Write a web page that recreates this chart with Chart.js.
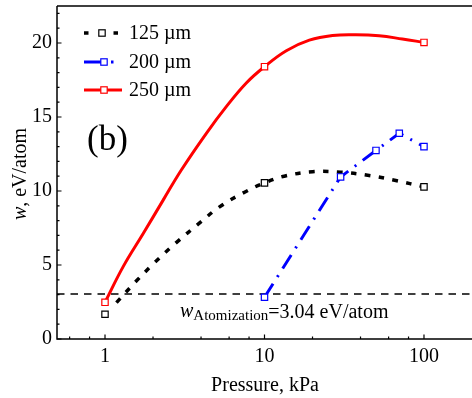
<!DOCTYPE html>
<html><head><meta charset="utf-8">
<script src="https://cdn.jsdelivr.net/npm/chart.js@4.4.0/dist/chart.umd.min.js"></script>
<style>html,body{margin:0;padding:0;background:#fff;}#wrap{width:472px;height:398px;}</style>
</head><body><div id="wrap"><canvas id="c" width="472" height="398"></canvas></div>
<script>
// ---- data ----
const xTickValues = [1, 10, 100];
const xMinorTicks = [0.6, 0.8, 2, 4, 6, 8, 20, 40, 60, 80, 200];
const yTickValues = [0, 5, 10, 15, 20];
const yMinorTicks = [1,2,3,4,6,7,8,9,11,12,13,14,16,17,18,19,21,22];

const p125X = [1, 10, 100];
const p125Y = [1.67, 10.55, 10.28];
const p200X = [10, 30, 50, 70, 100];
const p200Y = [2.82, 10.95, 12.74, 13.9, 13.0];
const p250X = [1, 10, 100];
const p250Y = [2.48, 18.4, 20.04];

const fit125X = [1.18, 1.56, 2.05, 2.81, 3.92, 5.23, 7.5, 10, 13.3, 20, 30.1, 45.3, 66.5, 100];
const fit125Y = [2.46, 3.88, 5.17, 6.53, 7.84, 8.93, 9.92, 10.55, 11.0, 11.3, 11.27, 11.05, 10.71, 10.28];
const fit250X = [1, 1.30, 1.74, 2.32, 3.01, 4.32, 5.76, 7.69, 10, 13.7, 19.1, 26.7, 37.4, 52.3, 73.2, 100];
const fit250Y = [2.48, 4.89, 7.14, 9.4, 11.42, 13.9, 15.7, 17.3, 18.4, 19.48, 20.19, 20.51, 20.56, 20.49, 20.27, 20.04];

const atomX = [0.5, 200];
const atomY = [3.04, 3.04];

const seriesLabels = ['125 \u00b5m', '200 \u00b5m', '250 \u00b5m'];

const pts = (xs, ys) => xs.map((x, i) => ({x: x, y: ys[i]}));
const FONT = 'Liberation Serif, Times New Roman, serif';

const BLACK_DASH = [5.5, 8.5];
const BLUE_DASH = [16, 8, 2, 8];

// stretch the plot area to the right edge of the canvas (the reference is cropped there)
const fullWidth = {
  id: 'fullWidth',
  afterLayout(chart) {
    const a = chart.chartArea, s = chart.scales.x, R = chart.width;
    s.right = R; s.width = R - s.left;
    a.right = R; a.width = R - a.left;
    s.configure();
  }
};

const decor = {
  id: 'decor',
  afterDraw(chart) {
    const ctx = chart.ctx, a = chart.chartArea;
    const xs = chart.scales.x, ys = chart.scales.y;
    ctx.save();
    ctx.strokeStyle = '#000'; ctx.lineWidth = 1.5; ctx.setLineDash([]);
    ctx.beginPath();
    ctx.moveTo(a.left, a.top); ctx.lineTo(a.right, a.top);
    ctx.moveTo(a.left, a.top); ctx.lineTo(a.left, a.bottom); ctx.lineTo(a.right, a.bottom);
    ctx.stroke();
    ctx.lineWidth = 1.2;
    ctx.beginPath();
    xTickValues.forEach(v => { const p = xs.getPixelForValue(v); ctx.moveTo(p, a.bottom); ctx.lineTo(p, a.bottom - 4.5); });
    xMinorTicks.forEach(v => { const p = xs.getPixelForValue(v); if (p > a.left + 1 && p < a.right - 1) { ctx.moveTo(p, a.bottom); ctx.lineTo(p, a.bottom - 2.5); } });
    yTickValues.forEach(v => { const p = ys.getPixelForValue(v); ctx.moveTo(a.left, p); ctx.lineTo(a.left + 4.5, p); });
    yMinorTicks.forEach(v => { const p = ys.getPixelForValue(v); ctx.moveTo(a.left, p); ctx.lineTo(a.left + 2.5, p); });
    ctx.stroke();

    const rows = [33, 62, 90];
    const drawMarker = (x, y, col) => {
      ctx.setLineDash([]); ctx.lineWidth = 1.2; ctx.strokeStyle = col; ctx.fillStyle = '#fff';
      ctx.fillRect(x - 3.2, y - 3.2, 6.4, 6.4); ctx.strokeRect(x - 3.2, y - 3.2, 6.4, 6.4);
    };
    ctx.fillStyle = '#000';
    ctx.fillRect(84, rows[0] - 1.75, 4.5, 3.5);
    ctx.fillRect(113.5, rows[0] - 1.75, 4.5, 3.5);
    drawMarker(102, rows[0], '#000');
    ctx.strokeStyle = '#0000ff'; ctx.lineWidth = 3; ctx.setLineDash([]);
    ctx.beginPath(); ctx.moveTo(84, rows[1]); ctx.lineTo(101, rows[1]); ctx.stroke();
    ctx.fillStyle = '#0000ff'; ctx.fillRect(111, rows[1] - 1.5, 2.5, 3);
    drawMarker(104, rows[1], '#0000ff');
    ctx.strokeStyle = '#ff0000'; ctx.lineWidth = 3;
    ctx.beginPath(); ctx.moveTo(84, rows[2]); ctx.lineTo(122, rows[2]); ctx.stroke();
    drawMarker(104, rows[2], '#ff0000');

    ctx.fillStyle = '#000';
    ctx.font = '20px ' + FONT; ctx.textAlign = 'left'; ctx.textBaseline = 'middle';
    seriesLabels.forEach((t, i) => ctx.fillText(t, 129, rows[i] + 1));

    ctx.textBaseline = 'alphabetic';
    ctx.font = '35px ' + FONT;
    ctx.fillText('(b)', 87, 150);

    let x = 180;
    ctx.font = 'italic 20px ' + FONT;
    ctx.fillText('w', x, 317); x += ctx.measureText('w').width;
    ctx.font = '15px ' + FONT;
    ctx.fillText('Atomization', x, 320); x += ctx.measureText('Atomization').width;
    ctx.font = '20px ' + FONT;
    ctx.fillText('=3.04 eV/atom', x, 318);

    ctx.textAlign = 'center';
    ctx.fillText('Pressure, kPa', 265, 391);

    ctx.save();
    ctx.translate(26, 174); ctx.rotate(-Math.PI / 2);
    ctx.textAlign = 'left';
    ctx.font = 'italic 20px ' + FONT;
    const w1 = ctx.measureText('w').width;
    ctx.font = '20px ' + FONT;
    const w2 = ctx.measureText(', eV/atom').width;
    const sx = -(w1 + w2) / 2;
    ctx.font = 'italic 20px ' + FONT;
    ctx.fillText('w', sx, 0);
    ctx.font = '20px ' + FONT;
    ctx.fillText(', eV/atom', sx + w1, 0);
    ctx.restore();

    ctx.restore();
  }
};

const markerOpts = (col) => ({
  pointStyle: 'rect', pointRadius: 4.5, pointBorderWidth: 1.2,
  pointBorderColor: col, pointBackgroundColor: '#fff', pointHoverRadius: 4.5
});

new Chart(document.getElementById('c'), {
  type: 'line',
  data: {
    datasets: [
      Object.assign({ label: 'p250', data: pts(p250X, p250Y), showLine: false }, markerOpts('#ff0000')),
      Object.assign({ label: 'p125', data: pts(p125X, p125Y), showLine: false }, markerOpts('#000000')),
      Object.assign({ label: seriesLabels[1], data: pts(p200X, p200Y), borderColor: '#0000ff', borderWidth: 3,
        borderDash: BLUE_DASH, tension: 0, borderCapStyle: 'butt' }, markerOpts('#0000ff')),
      { label: seriesLabels[2], data: pts(fit250X, fit250Y), borderColor: '#ff0000', borderWidth: 3,
        pointRadius: 0, tension: 0.4 },
      { label: seriesLabels[0], data: pts(fit125X, fit125Y), borderColor: '#000000', borderWidth: 3.5,
        borderDash: BLACK_DASH, borderCapStyle: 'butt', pointRadius: 0, tension: 0.4 },
      { label: 'atom', data: pts(atomX, atomY), borderColor: '#000000', borderWidth: 1.5,
        borderDash: [7.5, 6], pointRadius: 0, tension: 0 }
    ]
  },
  options: {
    responsive: false, animation: false, devicePixelRatio: 1,
    layout: { padding: { top: 6, left: 0, right: 0, bottom: 0 } },
    plugins: { legend: { display: false }, tooltip: { enabled: false } },
    events: [],
    scales: {
      x: {
        type: 'logarithmic', min: 0.5, max: 200, position: 'bottom',
        grid: { display: false, drawTicks: false }, border: { display: false },
        ticks: { color: '#000', font: { family: FONT, size: 20 }, padding: 6, maxRotation: 0, autoSkip: false,
          callback: (v) => xTickValues.includes(v) ? String(v) : '' },
        afterBuildTicks: (s) => { s.ticks = xTickValues.map(v => ({ value: v })); },
        afterFit: (s) => { s.height = 59; s.paddingLeft = 0; s.paddingRight = 0; s.paddingTop = 0; s.paddingBottom = 0; }
      },
      y: {
        type: 'linear', min: 0, max: 22.5,
        grid: { display: false, drawTicks: false }, border: { display: false },
        ticks: { color: '#000', font: { family: FONT, size: 20 }, padding: 5 },
        afterBuildTicks: (s) => { s.ticks = yTickValues.map(v => ({ value: v })); },
        afterFit: (s) => { s.width = 57; s.paddingLeft = 0; s.paddingRight = 0; s.paddingTop = 0; s.paddingBottom = 0; }
      }
    }
  },
  plugins: [fullWidth, decor]
});
</script></body></html>
